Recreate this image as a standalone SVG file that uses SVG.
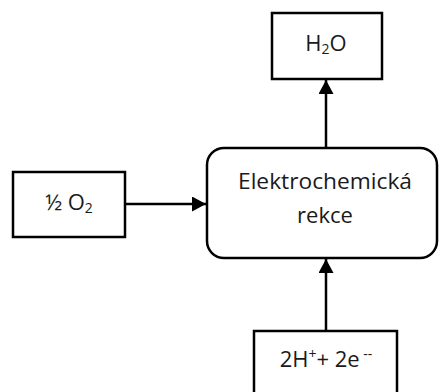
<svg xmlns="http://www.w3.org/2000/svg" width="440" height="392" viewBox="0 0 440 392">
<style>
.box{fill:#fff;stroke:#000;stroke-width:2.5}
.lbl{font-family:"Open Sans","Liberation Sans",sans-serif;font-size:22px;fill:#1a1a1a;text-anchor:middle}
.sub{font-size:14px}
.con{stroke:#000;stroke-width:2.5;fill:none}
</style>
<defs>
<marker id="ah" viewBox="0 0 10 10" refX="10" refY="5" markerWidth="14" markerHeight="15" markerUnits="userSpaceOnUse" orient="auto" preserveAspectRatio="none">
<path d="M0,0 L10,5 L0,10 z" fill="#000"/>
</marker>
</defs>
<rect width="440" height="392" fill="#fff"/>
<g id="connectors">
<line class="con" x1="326" y1="147" x2="326" y2="80" marker-end="url(#ah)"/>
<line class="con" x1="126" y1="204" x2="206" y2="204" marker-end="url(#ah)"/>
<line class="con" x1="326" y1="331" x2="326" y2="259" marker-end="url(#ah)"/>
</g>
<g id="h2o">
<rect class="box" x="272" y="13" width="110" height="66"/>
<text class="lbl" x="326" y="51">H<tspan class="sub" dy="3">2</tspan><tspan dy="-3">O</tspan></text>
</g>
<g id="o2">
<rect class="box" x="13" y="172" width="112" height="65"/>
<text class="lbl" x="69" y="210">½ O<tspan class="sub" dy="3">2</tspan></text>
</g>
<g id="reaction">
<rect class="box" x="207" y="148" width="230" height="110" rx="17"/>
<text class="lbl" x="325" y="189" textLength="174" lengthAdjust="spacingAndGlyphs">Elektrochemická</text>
<text class="lbl" x="325" y="223">rekce</text>
</g>
<g id="ions">
<rect class="box" x="254" y="331" width="143" height="70"/>
<text class="lbl" x="326" y="367">2H<tspan class="sub" dy="-8">+</tspan><tspan dy="8">+ 2e</tspan><tspan class="sub" dy="-8"> --</tspan></text>
</g>
</svg>
